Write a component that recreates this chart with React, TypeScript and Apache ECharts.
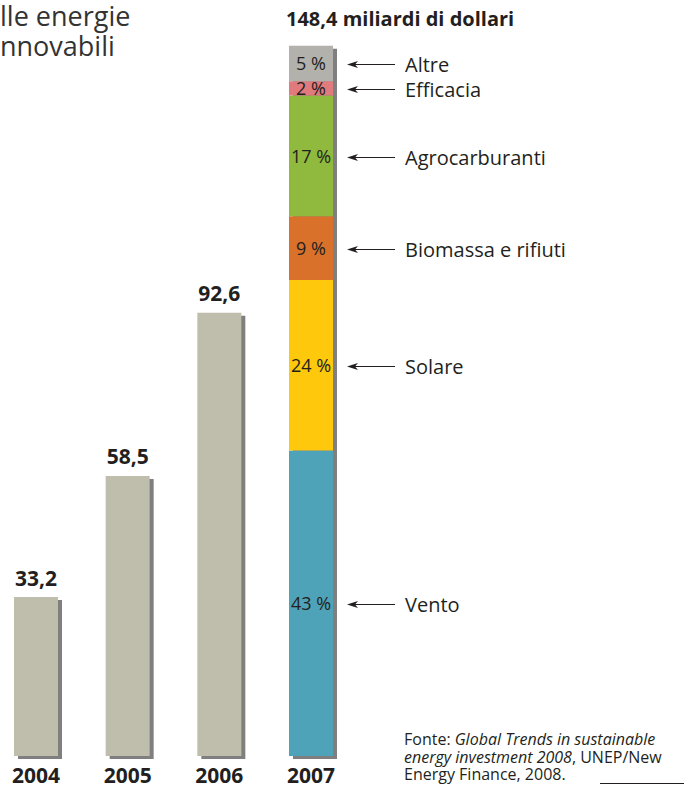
import React, { useEffect, useRef } from "react";
import * as echarts from "echarts";

const years = ["2004", "2005", "2006", "2007"];
const totals = [33.2, 58.5, 92.6, 148.4];
const segNames = ["Vento", "Solare", "Biomassa e rifiuti", "Agrocarburanti", "Efficacia", "Altre"];
const segPct = [43, 24, 9, 17, 2, 5];

const segColors = ["#4fa3b8", "#fec80c", "#d9712b", "#8fba3d", "#e07a7c", "#b2b1ab"];
const FONT = "'Open Sans', 'Noto Sans', sans-serif";
const INK = "#231f20";

const fmt = (v: number) => v.toFixed(1).replace(".", ",");

export default function App() {
  const ref = useRef<HTMLDivElement>(null);
  useEffect(() => {
    if (!ref.current) return;
    const chart = echarts.init(ref.current, null, { renderer: "svg" });
    const last = years.length - 1;
    const segValues = segPct.map((p) => (totals[last] * p) / 100);
    let cum = 0;
    const segRanges = segValues.map((v) => {
      const r = [cum, cum + v];
      cum += v;
      return r;
    });
    const barW = 44;

    const option: any = {
      animation: false,
      grid: { left: 36, right: 373, top: 38, bottom: 31 },
      xAxis: {
        type: "category",
        data: years,
        boundaryGap: false,
        axisLine: { show: false },
        axisTick: { show: false },
        axisLabel: {
          margin: 8,
          fontSize: 21,
          fontWeight: "bold",
          fontFamily: FONT,
          color: INK,
        },
      },
      yAxis: { type: "value", min: 0, max: 150, show: false, splitLine: { show: false } },
      graphic: [
        {
          type: "text",
          left: 0,
          top: 0,
          style: {
            text: "lle energie\nnnovabili",
            font: `27px ${FONT}`,
            lineHeight: 30,
            fill: "#333",
          },
        },
        {
          type: "text",
          left: 286,
          top: 8,
          style: {
            text: `${fmt(totals[last])} miliardi di dollari`,
            font: `bold 20px ${FONT}`,
            fill: INK,
          },
        },
        {
          type: "text",
          left: 404,
          top: 731,
          style: {
            text:
              "{n|Fonte: }{i|Global Trends in sustainable}\n{i|energy investment 2008}{n|, UNEP/New}\n{n|Energy Finance, 2008.}",
            rich: {
              n: { fontSize: 16, fontFamily: FONT, fill: INK, lineHeight: 17.5 },
              i: { fontSize: 16, fontFamily: FONT, fontStyle: "italic", fill: INK, lineHeight: 17.5 },
            },
          },
        },
        {
          type: "line",
          shape: { x1: 600, y1: 783.5, x2: 684, y2: 783.5 },
          style: { stroke: INK, lineWidth: 1 },
        },
      ],
      series: [
        {
          type: "custom",
          z: 1,
          encode: { x: 0, y: 1 },
          data: totals.map((v, i) => [i, v]),
          renderItem: (params: any, api: any) => {
            const top = api.coord([api.value(0), api.value(1)]);
            const base = api.coord([api.value(0), 0]);
            return {
              type: "rect",
              shape: { x: top[0] - barW / 2 + 4, y: top[1] + 3, width: barW, height: base[1] - top[1] },
              style: { fill: "#7f7f7f" },
            };
          },
        },
        {
          type: "bar",
          stack: "total",
          z: 2,
          barWidth: barW,
          data: totals.map((v, i) => (i < last ? v : null)),
          itemStyle: { color: "#bfbdac" },
          label: {
            show: true,
            position: "top",
            distance: 9,
            formatter: (p: any) => fmt(p.value),
            fontSize: 21,
            fontWeight: "bold",
            fontFamily: FONT,
            color: INK,
          },
        },
        ...segNames.map((n, k) => ({
          type: "bar",
          name: n,
          stack: "total",
          z: 2,
          barWidth: barW,
          data: years.map((_, i) => (i === last ? segValues[k] : null)),
          itemStyle: { color: segColors[k] },
          label: {
            show: true,
            position: "inside",
            formatter: `${segPct[k]} %`,
            fontSize: 18,
            fontFamily: FONT,
            color: INK,
          },
        })),
        {
          type: "custom",
          z: 3,
          encode: { x: 0, y: [1, 2] },
          data: segRanges.map((r, k) => [last, r[0], r[1], k]),
          renderItem: (params: any, api: any) => {
            const lo = api.coord([api.value(0), api.value(1)]);
            const hi = api.coord([api.value(0), api.value(2)]);
            const k = api.value(3);
            const y = Math.round((lo[1] + hi[1]) / 2) + 1.5;
            const x = lo[0] + barW / 2 + 14;
            return {
              type: "group",
              children: [
                { type: "line", shape: { x1: x + 4, y1: y, x2: x + 48, y2: y }, style: { stroke: INK, lineWidth: 1 } },
                {
                  type: "polygon",
                  shape: { points: [[x, y], [x + 11, y - 3.5], [x + 8, y], [x + 11, y + 3.5]] },
                  style: { fill: INK },
                },
                {
                  type: "text",
                  x: x + 58,
                  y: y,
                  style: { text: segNames[k], font: `20px ${FONT}`, verticalAlign: "middle", fill: INK },
                },
              ],
            };
          },
        },
      ],
    };
    chart.setOption(option);
    return () => chart.dispose();
  }, []);
  return <div ref={ref} style={{ width: 684, height: 787, position: "absolute", left: 0, top: 0 }} />;
}
